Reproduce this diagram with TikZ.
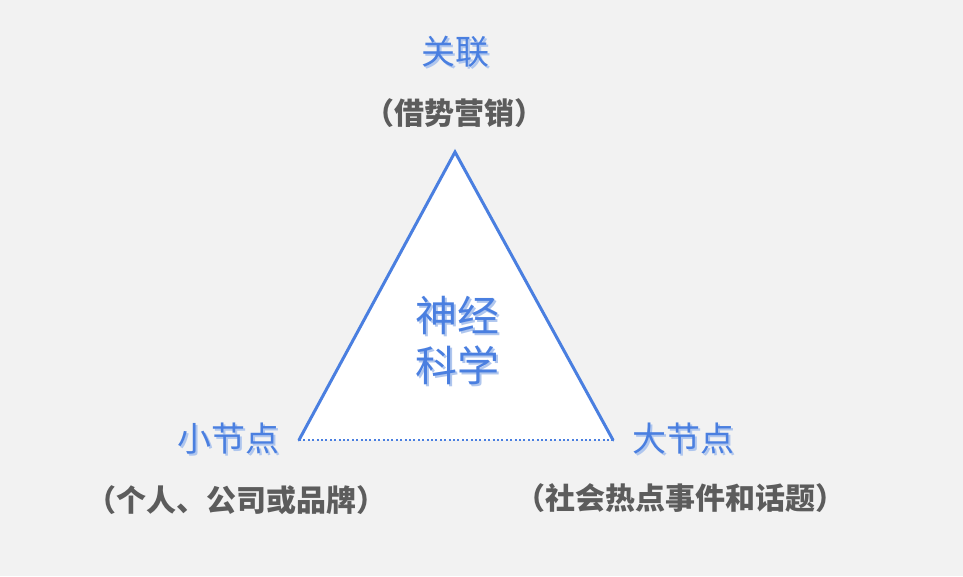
\documentclass[tikz,border=0pt]{standalone}
\usepackage{fontspec}
\newfontfamily\cjk{Noto Sans CJK SC}
\definecolor{lineblue}{HTML}{4A7FE0}
\definecolor{shadeblue}{HTML}{AFC6EE}
\definecolor{notegray}{HTML}{5C5C5C}
\definecolor{bggray}{HTML}{F2F2F2}
\newcommand\shadetext[1]{\rlap{\kern2pt\raisebox{-2pt}{\color{shadeblue}#1}}#1}
\tikzset{
    cornerlabel/.style={font=\cjk\fontsize{34}{40}\selectfont, text=lineblue, inner sep=0pt},
    notelabel/.style={font=\cjk\bfseries\fontsize{30}{36}\selectfont, text=notegray, inner sep=0pt},
    corelabel/.style={font=\cjk\fontsize{42}{50}\selectfont, text=lineblue, align=center, inner sep=0pt},
    side/.style={lineblue, line width=3pt, line cap=round},
    base/.style={lineblue, line width=2pt, dash pattern=on 2pt off 2.4pt}
}

\begin{document}
\begin{tikzpicture}[x=1pt, y=-1pt]
    \fill[bggray](0, 0)rectangle(963, 576);
    \useasboundingbox(0, 0)rectangle(963, 576);
    \coordinate(apex)at(455, 152);
    \coordinate(left)at(299, 440);
    \coordinate(right)at(613, 440);
    \fill[white](apex)--(left)--(right)--cycle;
    \draw[base](left)--(right);
    \draw[side](left)--(apex)--(right);
    % labels at the corners
    \node[cornerlabel](link)at(455, 53){\shadetext{关联}};
    \node[notelabel](linknote)at(454, 113){（借势营销）};
    \node[cornerlabel](small)at(228, 440){\shadetext{小节点}};
    \node[notelabel](smallnote)at(236, 500){（个人、公司或品牌）};
    \node[cornerlabel](big)at(683, 440){\shadetext{大节点}};
    \node[notelabel](bignote)at(680, 498){（社会热点事件和话题）};
    \node[corelabel](core)at(457, 341){\shadetext{神经}\\\shadetext{科学}};
\end{tikzpicture}
\end{document}
